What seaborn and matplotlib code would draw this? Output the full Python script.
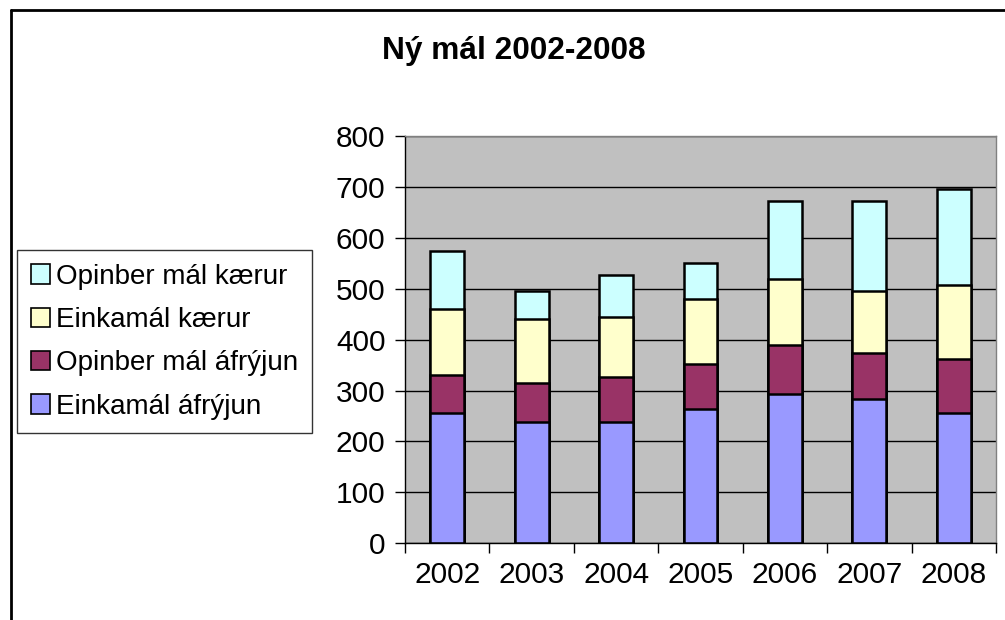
import numpy as np
import pandas as pd
import seaborn as sns
import matplotlib.pyplot as plt
from matplotlib.patches import Patch
from matplotlib.lines import Line2D

years = ["2002", "2003", "2004", "2005", "2006", "2007", "2008"]
einkamal_afryjun = [255, 239, 239, 263, 294, 283, 255]
opinber_afryjun = [75, 75, 87, 90, 96, 90, 107]
einkamal_kaerur = [130, 126, 119, 127, 129, 122, 146]
opinber_kaerur = [114, 55, 82, 70, 154, 178, 188]

series_names = ["Einkamál áfrýjun", "Opinber mál áfrýjun", "Einkamál kærur", "Opinber mál kærur"]
series_colors = ["#9999FF", "#993366", "#FFFFCC", "#CCFFFF"]

sns.set_theme(style="white")
plt.rcParams['font.family'] = ['Liberation Sans', 'DejaVu Sans']
plt.rcParams['text.color'] = 'black'
plt.rcParams['xtick.color'] = 'black'
plt.rcParams['ytick.color'] = 'black'

df = pd.DataFrame({"year": years,
                   series_names[0]: einkamal_afryjun,
                   series_names[1]: opinber_afryjun,
                   series_names[2]: einkamal_kaerur,
                   series_names[3]: opinber_kaerur})
cum = df[series_names].cumsum(axis=1)

fig = plt.figure(figsize=(10.05, 6.2), dpi=100)
ax = fig.add_axes([0.403, 0.124, 0.588, 0.656])
ax.set_facecolor("#C0C0C0")

# stacked: draw cumulative totals from the top down
for name, col in zip(series_names[::-1], series_colors[::-1]):
    sns.barplot(x=df["year"], y=cum[name], color=col, saturation=1, width=0.4,
                edgecolor="black", linewidth=1.8, ax=ax)

ax.set_ylim(0, 800)
ax.set_xlim(-0.5, len(years) - 0.5)
ax.set_yticks(range(0, 801, 100))
ax.yaxis.grid(True, color="black", linewidth=1)
ax.set_axisbelow(True)
ax.set_xlabel("")
ax.set_ylabel("")

ax.set_xticks(np.arange(len(years)))
ax.set_xticklabels(years)
ax.set_xticks(np.arange(len(years) + 1) - 0.5, minor=True)
ax.tick_params(axis="x", which="major", length=0, pad=13, labelsize=21.5)
ax.tick_params(axis="x", which="minor", length=7, width=1, color="black", direction="out", bottom=True)
ax.tick_params(axis="y", length=7, width=1, color="black", direction="out", left=True, pad=7, labelsize=21.5)

for s in ["left", "bottom"]:
    ax.spines[s].set_color("black")
    ax.spines[s].set_linewidth(1)
for s in ["top", "right"]:
    ax.spines[s].set_color("#808080")
    ax.spines[s].set_linewidth(1)

fig.text(0.511, 0.918, "Ný mál 2002-2008", ha="center", va="center",
         fontsize=22.8, fontweight="bold")

handles = [Patch(facecolor=c, edgecolor="black", linewidth=1.2) for c in series_colors[::-1]]
leg = fig.legend(handles, series_names[::-1], loc="upper left",
                 bbox_to_anchor=(17 / 1005, 1 - 250 / 620), fontsize=20,
                 frameon=True, fancybox=False, edgecolor="black",
                 handlelength=0.7, handleheight=0.7, handletextpad=0.2,
                 labelspacing=0.62, borderpad=0.5, borderaxespad=0)
leg.get_frame().set_linewidth(1)

# outer chart border (top and left visible)
fig.add_artist(Line2D([11 / 1005, 1.0], [1 - 10 / 620, 1 - 10 / 620],
                      transform=fig.transFigure, color="black", linewidth=2))
fig.add_artist(Line2D([11 / 1005, 11 / 1005], [0, 1 - 10 / 620],
                      transform=fig.transFigure, color="black", linewidth=2))

fig.savefig("out.png", dpi=100)
